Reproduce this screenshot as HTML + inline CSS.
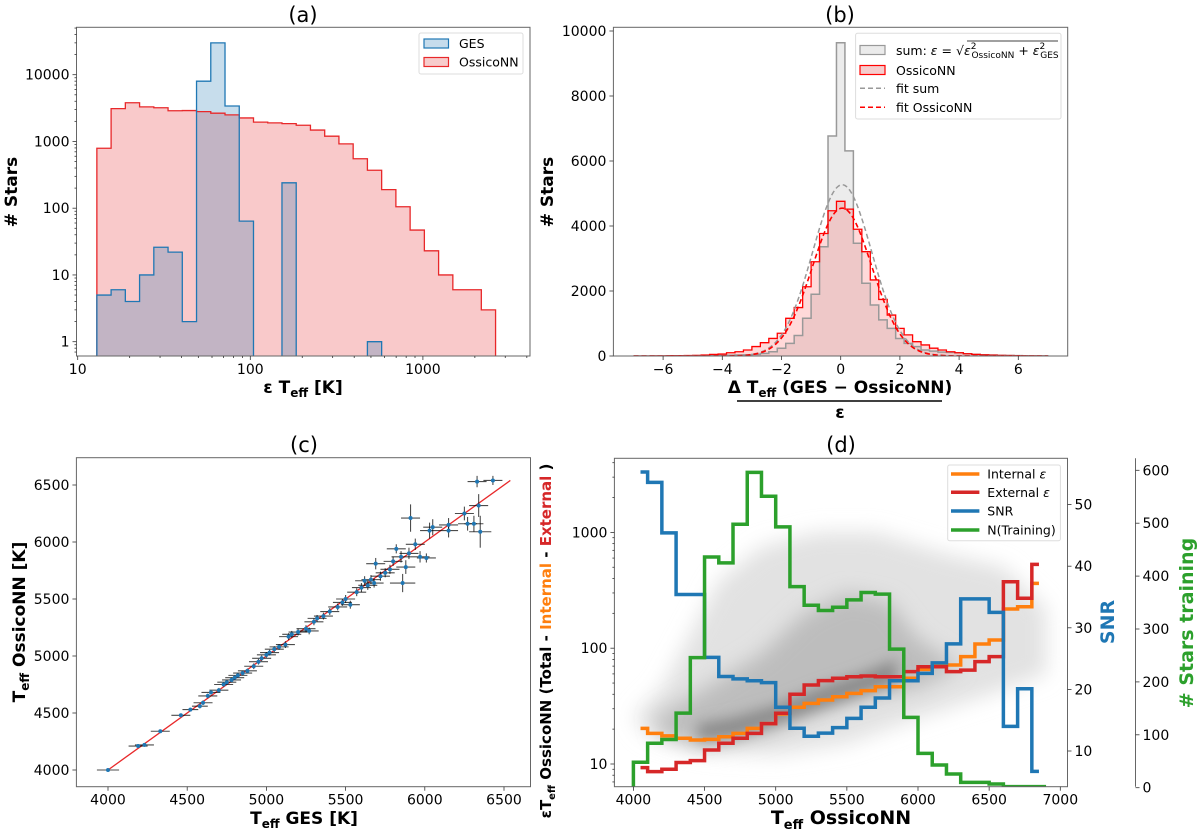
<!DOCTYPE html>
<html><head><meta charset="utf-8"><title>Teff figure</title>
<style>
html,body{margin:0;padding:0;background:#fff;}
svg{display:block;font-family:"DejaVu Sans","Liberation Sans",sans-serif;}
.tk{font-size:14px;fill:#000;}
.lab{font-size:17px;font-weight:bold;fill:#000;}
.ttl{font-size:21px;fill:#000;}
.leg{font-size:12.5px;fill:#000;}
</style></head>
<body>
<svg id="fig" xmlns="http://www.w3.org/2000/svg" width="1200" height="831" viewBox="0 0 1200 831">
<defs>
<clipPath id="clipA"><rect x="76.5" y="27.3" width="453.5" height="328.7"/></clipPath>
<clipPath id="clipB"><rect x="613.4" y="27.3" width="454.3" height="328.7"/></clipPath>
<clipPath id="clipC"><rect x="76.4" y="457.7" width="454.1" height="329"/></clipPath>
<clipPath id="clipD"><rect x="614.4" y="458.3" width="453.1" height="328.4"/></clipPath>
<filter id="blur1" x="-20%" y="-20%" width="140%" height="140%"><feGaussianBlur stdDeviation="7"/></filter>
<filter id="blur2" x="-20%" y="-20%" width="140%" height="140%"><feGaussianBlur stdDeviation="10"/></filter>
</defs>

<text class="ttl" x="303" y="22" text-anchor="middle">(a)</text>
<text class="ttl" x="840" y="22" text-anchor="middle">(b)</text>
<text class="ttl" x="304" y="452" text-anchor="middle">(c)</text>
<text class="ttl" x="841" y="452" text-anchor="middle">(d)</text>

<text class="lab" x="303" y="393" text-anchor="middle">ε T<tspan font-size="12" dy="4">eff</tspan><tspan dy="-4"> [K]</tspan></text>
<text class="lab" transform="translate(17,192) rotate(-90)" text-anchor="middle"># Stars</text>
<text class="lab" transform="translate(553,192) rotate(-90)" text-anchor="middle"># Stars</text>
<g>
<text class="lab" x="840" y="393" text-anchor="middle">Δ T<tspan font-size="12" dy="4">eff</tspan><tspan dy="-4"> (GES − OssicoNN)</tspan></text>
<line x1="737" y1="401" x2="942" y2="401" stroke="#000" stroke-width="1.5"/>
<text class="lab" x="840" y="418" text-anchor="middle">ε</text>
</g>
<text class="lab" x="304" y="824" text-anchor="middle">T<tspan font-size="12" dy="4">eff</tspan><tspan dy="-4"> GES [K]</tspan></text>
<text class="lab" transform="translate(25,622) rotate(-90)" text-anchor="middle">T<tspan font-size="12" dy="4">eff</tspan><tspan dy="-4"> OssicoNN [K]</tspan></text>
<text class="lab" transform="translate(551,641) rotate(-90)" text-anchor="middle" font-size="15" style="font-size:15px">εT<tspan font-size="10" dy="4">eff</tspan><tspan dy="-4"> OssicoNN  (Total - </tspan><tspan fill="#ff7f0e">Internal</tspan><tspan> - </tspan><tspan fill="#d62728">External</tspan><tspan> )</tspan></text>
<text class="lab" x="841" y="824" text-anchor="middle" font-size="19" style="font-size:19px">T<tspan font-size="13" dy="5">eff</tspan><tspan dy="-5"> OssicoNN</tspan></text>
<text class="lab" transform="translate(1114,622) rotate(-90)" text-anchor="middle" style="fill:#1f77b4;font-size:19px">SNR</text>
<text class="lab" transform="translate(1193,623) rotate(-90)" text-anchor="middle" style="fill:#2ca02c;font-size:19px"># Stars training</text>

<g id="layer"></g>

<g>
<rect x="419" y="33" width="104" height="41" fill="#fff" fill-opacity="0.8" stroke="#ddd" stroke-width="1" rx="2"/>
<g><rect x="424" y="39" width="24.5" height="9" fill="#c6dcec" stroke="#1f77b4" stroke-width="1.2"/><text class="leg" x="459" y="48">GES</text></g>
<g><rect x="424" y="57.5" width="24.5" height="9" fill="#f7cccc" stroke="#e8282a" stroke-width="1.2"/><text class="leg" x="459" y="66.5">OssicoNN</text></g>
</g>
<g>
<rect x="855.6" y="33.3" width="205.4" height="85.7" fill="#fff" fill-opacity="0.8" stroke="#ddd" stroke-width="1" rx="2"/>
<g><rect x="860" y="45.5" width="25" height="9" fill="#ebebeb" stroke="#999" stroke-width="1.2"/>
<text class="leg" x="896" y="55">sum: <tspan font-style="italic">ε</tspan> = √<tspan font-style="italic">ε</tspan><tspan font-size="9" dy="-6">2</tspan><tspan font-size="9" dx="-5" dy="9">OssicoNN</tspan><tspan dy="-3"> + </tspan><tspan font-style="italic">ε</tspan><tspan font-size="9" dy="-6">2</tspan><tspan font-size="9" dx="-5" dy="9">GES</tspan></text>
<line x1="967" y1="41" x2="1058" y2="41" stroke="#000" stroke-width="0.8"/></g>
<g><rect x="860" y="65.5" width="25" height="9" fill="#f5cccc" stroke="#ff0000" stroke-width="1.2"/><text class="leg" x="896" y="75">OssicoNN</text></g>
<g><line x1="860" y1="88.3" x2="885" y2="88.3" stroke="#999" stroke-width="1.5" stroke-dasharray="5,3"/><text class="leg" x="896" y="93">fit sum</text></g>
<g><line x1="860" y1="107.3" x2="885" y2="107.3" stroke="#ff0000" stroke-width="1.5" stroke-dasharray="5,3"/><text class="leg" x="896" y="112">fit OssicoNN</text></g>
</g>
<g>
<rect x="947.7" y="465" width="112.7" height="75.7" fill="#fff" fill-opacity="0.8" stroke="#ddd" stroke-width="1" rx="2"/>
<g><line x1="951" y1="474" x2="979.4" y2="474" stroke="#ff7f0e" stroke-width="3.5"/><text class="leg" x="987.3" y="478.5">Internal <tspan font-style="italic">ε</tspan></text></g>
<g><line x1="951" y1="492.3" x2="979.4" y2="492.3" stroke="#d62728" stroke-width="3.5"/><text class="leg" x="987.3" y="496.8">External <tspan font-style="italic">ε</tspan></text></g>
<g><line x1="951" y1="511" x2="979.4" y2="511" stroke="#1f77b4" stroke-width="3.5"/><text class="leg" x="987.3" y="515.5">SNR</text></g>
<g><line x1="951" y1="530" x2="979.4" y2="530" stroke="#2ca02c" stroke-width="3.5"/><text class="leg" x="987.3" y="534.5">N(Training)</text></g>
</g>
</svg>

<script>
// ---------- Panel (a) data ----------
const aBinLogStart = 1.111;
const aBinLogStep = 0.0825;
const aOssico = [790,3100,3800,3300,3200,2880,2900,2800,2650,2500,2250,1950,1900,1850,1750,1480,1200,920,550,370,190,105,47,23,10,6,6,3];
const aGES = [5,6,4,10,26,22,2,8000,30000,3400,64,0,0,240,0,0,0,0,0,1,0,0,0,0,0,0,0,0];
const aXTicks = [10,100,1000];
const aXTickLabels = ["10","100","1000"];
const aYTicks = [1,10,100,1000,10000];
const aYTickLabels = ["1","10","100","1000","10000"];

// ---------- Panel (b) data ----------
const bMin = -7;
const bMax = 7;
const bGray = [0,0,0,0,0,5,5,10,10,15,20,25,30,35,50,80,130,240,390,630,1160,1900,3360,6770,9640,6310,3470,2240,1570,1110,850,540,390,290,185,150,120,110,100,70,50,40,30,20,15,10,8,5,3];
const bRed = [0,0,5,5,10,10,15,20,30,50,60,100,130,185,290,410,540,700,1160,1490,2130,2900,3770,4470,4760,4520,3900,3210,2340,1740,1260,850,650,440,340,240,185,130,100,70,50,35,25,20,15,10,5,5,0];
const bFitSum = [5270, 0.05, 1.0];
const bFitOssico = [4550, 0.05, 1.0];
const bXTicks = [-6,-4,-2,0,2,4,6];
const bXTickLabels = ["−6","−4","−2","0","2","4","6"];
const bYTicks = [0,2000,4000,6000,8000,10000];
const bYTickLabels = ["0","2000","4000","6000","8000","10000"];

// ---------- Panel (c) data ----------
const cGES =    [4000,4190,4230,4330,4460,4520,4580,4600,4630,4650,4700,4730,4750,4780,4800,4820,4850,4880,4920,4950,4970,5000,5020,5050,5080,5120,5140,5160,5200,5250,5270,5300,5320,5360,5400,5450,5480,5500,5530,5570,5600,5620,5640,5660,5680,5690,5720,5750,5780,5800,5820,5850,5860,5880,5900,5910,5940,5970,6010,6030,6050,6150,6150,6250,6270,6310,6340,6350,6330,6430];
const cOssico = [4000,4210,4220,4340,4480,4530,4560,4590,4650,4680,4700,4750,4770,4790,4810,4830,4850,4870,4910,4950,4980,5010,5030,5060,5080,5100,5170,5190,5210,5240,5220,5300,5330,5350,5390,5430,5470,5500,5450,5560,5600,5660,5620,5670,5640,5810,5700,5730,5760,5830,5940,5870,5640,5780,5900,6210,5980,5870,5860,6100,6130,6150,6100,6250,6160,6160,6320,6090,6530,6540];
const cErrX =   [70,60,60,60,60,50,50,60,60,60,60,60,60,60,60,60,60,60,60,60,60,60,60,60,60,60,60,60,60,60,60,60,60,60,60,60,60,60,60,60,60,60,60,60,60,60,60,60,60,60,60,60,80,60,60,60,60,60,60,60,60,60,60,60,60,60,60,70,60,60];
const cErrY =   [10,15,15,10,15,15,20,20,20,15,20,20,20,20,20,20,20,20,25,25,25,25,25,25,25,30,30,30,30,30,30,30,30,30,30,30,30,35,35,35,40,40,40,40,40,50,40,40,40,40,40,50,80,60,50,120,50,50,40,70,70,60,60,60,60,70,100,140,50,40];
const cTicks = [4000,4500,5000,5500,6000,6500];
const cTickLabels = ["4000","4500","5000","5500","6000","6500"];

// ---------- Panel (d) data ----------
const dStart = 4050;
const dStep = 100;
const dSNR = [55.3,53.6,45.4,35.4,35.4,25.2,22.1,21.7,21.4,21.1,17.1,13.7,12.4,12.9,13.8,15.3,17.1,18.6,21.4,21.4,22.6,24.3,27.4,34.7,34.7,32.5,14.0,20.1,6.7];
const dInternal = [20.3,18.4,17.5,16.7,16.1,16.3,17.2,18.4,20.3,22.3,27,30.9,33.4,35.7,38.1,40.7,43,46.5,46.5,55,65.7,71.6,71.6,84.5,108.7,117.8,218,228,363];
const dExternal = [9.3,8.6,9.0,10.3,10.7,13.2,15.1,16.7,18.4,22.3,27.4,40,48.1,52.5,55,56.7,57.5,56.7,56.7,62.7,69.2,69.2,62.7,64.6,76.5,84.5,375,270,530];
const dTrainStart = 4000;
const dNTrain = [48,84,91,141,246,436,425,498,596,551,493,380,345,335,341,355,369,366,262,133,65,43,26,10,10,7,2,2,2];
const dXTicks = [4000,4500,5000,5500,6000,6500,7000];
const dXTickLabels = ["4000","4500","5000","5500","6000","6500","7000"];
const dYTicks = [10,100,1000];
const dYTickLabels = ["10","100","1000"];
const dSNRTicks = [10,20,30,40,50];
const dSNRTickLabels = ["10","20","30","40","50"];
const dNTicks = [0,100,200,300,400,500,600];
const dNTickLabels = ["0","100","200","300","400","500","600"];
const dCloudT = [4000,4200,4400,4600,4900,5300,5700,6200,6600,6900,6900,6500,6000,5500,5000,4500,4100];
const dCloudE = [25,45,130,380,750,1000,1000,650,500,220,60,40,25,15,12,13,18];
const dCoreT = [4150,4500,4900,5200,5500,5800,6000,6300,6000,5700,5300,4900,4500,4200];
const dCoreE = [25,45,90,200,300,250,120,70,45,40,28,18,14,18];
const dDenseT = [4450,4700,5000,5300,5600,5850,5850,5600,5300,5000,4700,4450];
const dDenseE = [22,25,32,45,60,80,50,40,30,22,17,16];

// ---------- helpers ----------
const NS = 'http://www.w3.org/2000/svg';
const layer = document.getElementById('layer');
function mk(tag, attrs, parent){
  const e = document.createElementNS(NS, tag);
  for (const k in attrs) e.setAttribute(k, attrs[k]);
  (parent || layer).appendChild(e);
  return e;
}
const lg = Math.log10;

const xA = v => 77.7 + (lg(v) - 1) * 172.6;
const yA = v => 341.7 - lg(v) * 66.75;
const xB = v => 840.7 + v * 29.6;
const yB = v => 356 - v * 0.0325;
const xC = v => 108 + (v - 4000) * 0.1584;
const yC = v => 770 - (v - 4000) * 0.114;
const xD = v => 633.4 + (v - 4000) * 0.1423;
const yDl = v => 764 - (lg(v) - 1) * 115.8;
const ySNR = v => 812.6 - v * 6.16;
const yN = v => 787.7 - v * 0.529;

function frame(L,T,R,B,name){
  const r = mk('rect',{x:L,y:T,width:R-L,height:B-T,fill:'none',stroke:'#666','stroke-width':1});
  
  
}
function xTick(x,B,len,label,name){
  const g = mk('g',{});
  
  
  mk('line',{x1:x,y1:B,x2:x,y2:B+len,stroke:'#333','stroke-width':0.8},g);
  if (label !== null) { const t = mk('text',{x:x,y:B+18,'text-anchor':'middle',class:'tk'},g); t.textContent = label; }
}
function yTick(x,y,len,label,name,side){
  const g = mk('g',{});
  
  
  const d = side === 'right' ? len : -len;
  mk('line',{x1:x,y1:y,x2:x+d,y2:y,stroke:'#333','stroke-width':0.8},g);
  if (label !== null) {
    const t = mk('text',{x: side==='right' ? x+d+3 : x+d-3, y:y+5,'text-anchor': side==='right'?'start':'end',class:'tk'},g);
    t.textContent = label;
  }
}

// ================= Panel A =================
(function(){
  const L=76.5,T=27.3,R=530,B=356;
  const g = mk('g',{'clip-path':'url(#clipA)'});
  
  
  function histPath(vals){
    const n = vals.length;
    let d = 'M' + xA(Math.pow(10,aBinLogStart)) + ',' + (B+5);
    for (let i=0;i<n;i++){
      const xl = xA(Math.pow(10,aBinLogStart+i*aBinLogStep));
      const xr = xA(Math.pow(10,aBinLogStart+(i+1)*aBinLogStep));
      const y = vals[i] > 0 ? yA(vals[i]) : B+5;
      d += ' L' + xl + ',' + y + ' L' + xr + ',' + y;
    }
    d += ' L' + xA(Math.pow(10,aBinLogStart+n*aBinLogStep)) + ',' + (B+5);
    return d;
  }
  const po = mk('path',{d:histPath(aOssico)+' Z',fill:'rgba(232,40,42,0.25)',stroke:'none'},g);
  
  
  const pg = mk('path',{d:histPath(aGES)+' Z',fill:'rgba(31,119,180,0.25)',stroke:'none'},g);
  
  
  const so = mk('path',{d:histPath(aOssico),fill:'none',stroke:'#e8282a','stroke-width':1.3},g);
  
  
  const sg = mk('path',{d:histPath(aGES),fill:'none',stroke:'#1f77b4','stroke-width':1.3},g);
  
  
  frame(L,T,R,B,'panel-a-frame');
  aXTicks.forEach((v,i)=>xTick(xA(v),B,4,aXTickLabels[i],'panel-a-x-tick'));
  [20,30,40,50,60,70,80,90,200,300,400,500,600,700,800,900,2000,3000,4000].forEach(v=>xTick(xA(v),B,2,null,'panel-a-x-minor-tick'));
  aYTicks.forEach((v,i)=>yTick(L,yA(v),4,aYTickLabels[i],'panel-a-y-tick','left'));
  [0.7,0.8,0.9,2,3,4,5,6,7,8,9,20,30,40,50,60,70,80,90,200,300,400,500,600,700,800,900,2000,3000,4000,5000,6000,7000,8000,9000,20000,30000,40000,50000].forEach(v=>{ if(yA(v)>T && yA(v)<B) yTick(L,yA(v),2,null,'panel-a-y-minor-tick','left'); });
})();

// ================= Panel B =================
(function(){
  const L=613.4,T=27.3,R=1067.7,B=356;
  const g = mk('g',{'clip-path':'url(#clipB)'});
  
  
  const w = (bMax-bMin)/bGray.length;
  function histPath(vals){
    let d = 'M' + xB(bMin) + ',' + yB(0);
    vals.forEach((v,i)=>{ d += ' L'+xB(bMin+i*w)+','+yB(v)+' L'+xB(bMin+(i+1)*w)+','+yB(v); });
    d += ' L' + xB(bMax) + ',' + yB(0);
    return d;
  }
  const f1 = mk('path',{d:histPath(bGray)+' Z',fill:'rgba(128,128,128,0.15)',stroke:'none'},g);
  
  
  const f2 = mk('path',{d:histPath(bRed)+' Z',fill:'rgba(255,0,0,0.15)',stroke:'none'},g);
  
  
  const s1 = mk('path',{d:histPath(bGray),fill:'none',stroke:'#999','stroke-width':1.5},g);
  
  
  const s2 = mk('path',{d:histPath(bRed),fill:'none',stroke:'#ff0000','stroke-width':1.3},g);
  
  
  function fitPath(p){
    let d='';
    for (let k=0;k<=280;k++){ const x = bMin + k*(bMax-bMin)/280; const y = p[0]*Math.exp(-Math.pow(x-p[1],2)/(2*p[2]*p[2])); d += (k?' L':'M')+xB(x)+','+yB(y); }
    return d;
  }
  const fs = mk('path',{d:fitPath(bFitSum),fill:'none',stroke:'#999','stroke-width':1.5,'stroke-dasharray':'5,3'},g);
  
  
  const fo = mk('path',{d:fitPath(bFitOssico),fill:'none',stroke:'#ff0000','stroke-width':1.6,'stroke-dasharray':'5,3'},g);
  
  
  frame(L,T,R,B,'panel-b-frame');
  bXTicks.forEach((v,i)=>xTick(xB(v),B,4,bXTickLabels[i],'panel-b-x-tick'));
  bYTicks.forEach((v,i)=>yTick(L,yB(v),4,bYTickLabels[i],'panel-b-y-tick','left'));
})();

// ================= Panel C =================
(function(){
  const L=76.4,T=457.7,R=530.5,B=786.7;
  const g = mk('g',{'clip-path':'url(#clipC)'});
  
  
  const line = mk('line',{x1:xC(4000),y1:yC(4000),x2:xC(6540),y2:yC(6540),stroke:'#e8282a','stroke-width':1.3},g);
  
  
  cGES.forEach((gv,i)=>{
    const ov = cOssico[i];
    const eb = mk('g',{},g);
    
    
    mk('line',{x1:xC(gv-cErrX[i]),y1:yC(ov),x2:xC(gv+cErrX[i]),y2:yC(ov),stroke:'rgba(0,0,0,0.7)','stroke-width':1.1},eb);
    mk('line',{x1:xC(gv),y1:yC(ov-cErrY[i]),x2:xC(gv),y2:yC(ov+cErrY[i]),stroke:'rgba(0,0,0,0.7)','stroke-width':1.1},eb);
  });
  cGES.forEach((gv,i)=>{
    const p = mk('circle',{cx:xC(gv),cy:yC(cOssico[i]),r:2,fill:'#1f77b4'},g);
    
    
  });
  frame(L,T,R,B,'panel-c-frame');
  cTicks.forEach((v,i)=>xTick(xC(v),B,4,cTickLabels[i],'panel-c-x-tick'));
  cTicks.forEach((v,i)=>yTick(L,yC(v),4,cTickLabels[i],'panel-c-y-tick','left'));
})();

// ================= Panel D =================
(function(){
  const L=614.4,T=458.3,R=1067.5,B=786.7;
  const g = mk('g',{'clip-path':'url(#clipD)'});
  
  
  function poly(ts,es){ return ts.map((t,i)=>xD(t)+','+yDl(es[i])).join(' '); }
  const c1 = mk('polygon',{points:poly(dCloudT,dCloudE),fill:'#e2e2e2',filter:'url(#blur2)'},g);
  
  
  const c2 = mk('polygon',{points:poly(dCoreT,dCoreE),fill:'#bdbdbd',filter:'url(#blur2)'},g);
  
  
  const c3 = mk('polygon',{points:poly(dDenseT,dDenseE),fill:'#8a8a8a',filter:'url(#blur1)'},g);
  
  

  function stepMid(vals, yf){
    const n = vals.length; let d='';
    for (let i=0;i<n;i++){
      const c = dStart + i*dStep;
      const xl = i===0 ? c : c - dStep/2;
      const xr = i===n-1 ? c : c + dStep/2;
      d += (i? ' L':'M') + xD(xl) + ',' + yf(vals[i]) + ' L' + xD(xr) + ',' + yf(vals[i]);
    }
    return d;
  }
  const li = mk('path',{d:stepMid(dInternal,yDl),fill:'none',stroke:'#ff7f0e','stroke-width':3.5},g);
  
  
  const le = mk('path',{d:stepMid(dExternal,yDl),fill:'none',stroke:'#d62728','stroke-width':3.5},g);
  
  
  const ls = mk('path',{d:stepMid(dSNR,ySNR),fill:'none',stroke:'#1f77b4','stroke-width':3.5},g);
  
  
  let dn = 'M' + xD(dTrainStart) + ',' + yN(0);
  dNTrain.forEach((v,i)=>{ dn += ' L'+xD(dTrainStart+i*dStep)+','+yN(v)+' L'+xD(dTrainStart+(i+1)*dStep)+','+yN(v); });
  const ln = mk('path',{d:dn,fill:'none',stroke:'#2ca02c','stroke-width':3.5},g);
  
  

  frame(L,T,R,B,'panel-d-frame');
  dXTicks.forEach((v,i)=>xTick(xD(v),B,4,dXTickLabels[i],'panel-d-x-tick'));
  dYTicks.forEach((v,i)=>yTick(L,yDl(v),4,dYTickLabels[i],'panel-d-y-tick','left'));
  [7,8,9,20,30,40,50,60,70,80,90,200,300,400,500,600,700,800,900,2000,3000,4000].forEach(v=>{ if(yDl(v)>T&&yDl(v)<B) yTick(L,yDl(v),2,null,'panel-d-y-minor-tick','left'); });
  dSNRTicks.forEach((v,i)=>yTick(R,ySNR(v),4,dSNRTickLabels[i],'snr-axis-tick','right'));
  const sp = mk('line',{x1:1135.5,y1:T,x2:1135.5,y2:B,stroke:'#666','stroke-width':1});
  
  
  dNTicks.forEach((v,i)=>yTick(1135.5,yN(v),4,dNTickLabels[i],'training-axis-tick','right'));
})();
</script>
</body></html>
